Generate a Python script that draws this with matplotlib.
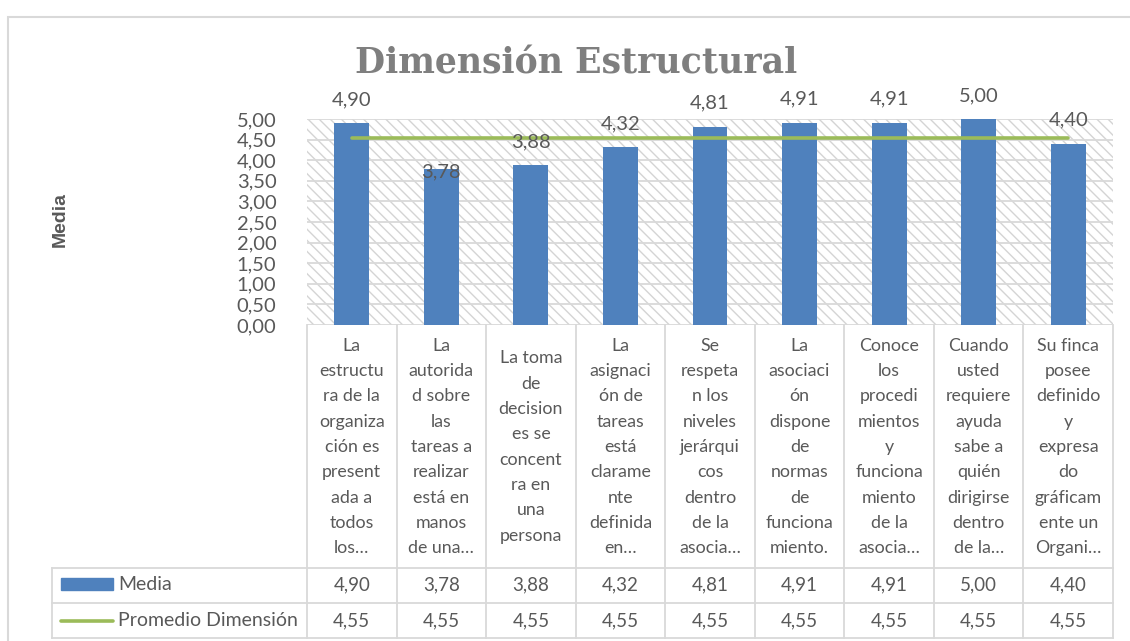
import matplotlib
matplotlib.use("Agg")
import matplotlib.pyplot as plt
import matplotlib.transforms as mtransforms
from matplotlib.patches import Rectangle
from matplotlib.lines import Line2D
import numpy as np

# --- data ---
categories = [
    "La\nestructu\nra de la\norganiza\nción es\npresent\nada a\ntodos\nlos…",
    "La\nautorida\nd sobre\nlas\ntareas a\nrealizar\nestá en\nmanos\nde una…",
    "La toma\nde\ndecision\nes se\nconcent\nra en\nuna\npersona",
    "La\nasignaci\nón de\ntareas\nestá\nclarame\nnte\ndefinida\nen…",
    "Se\nrespeta\nn los\nniveles\njerárqui\ncos\ndentro\nde la\nasocia…",
    "La\nasociaci\nón\ndispone\nde\nnormas\nde\nfunciona\nmiento.",
    "Conoce\nlos\nprocedi\nmientos\ny\nfunciona\nmiento\nde la\nasocia…",
    "Cuando\nusted\nrequiere\nayuda\nsabe a\nquién\ndirigirse\ndentro\nde la…",
    "Su finca\nposee\ndefinido\ny\nexpresa\ndo\ngráficam\nente un\nOrgani…",
]
media = [4.90, 3.78, 3.88, 4.32, 4.81, 4.91, 4.91, 5.00, 4.40]
promedio = [4.55] * 9
series_names = ["Media", "Promedio Dimensión"]

BLUE = "#4F81BD"
GREEN = "#9BBB59"
GRID = "#d9d9d9"
TXT = "#595959"

plt.rcParams["font.family"] = ["Lato", "DejaVu Sans"]

W, H = 1130, 641
fig = plt.figure(figsize=(W / 100, H / 100), dpi=100)


def fx(px):
    return px / W


def fy(py):
    return 1 - py / H


# outer chart border
fig.add_artist(Rectangle((fx(8), -0.1), 1.2, fy(17) + 0.1, transform=fig.transFigure,
                         fill=False, ec=GRID, lw=1.5))

ax = fig.add_axes([fx(307), fy(325), fx(1113) - fx(307), fy(119) - fy(325)])
x = np.arange(len(media))

# hatched plot area
ax.add_patch(Rectangle((0, 0), 1, 1, transform=ax.transAxes, facecolor="white",
                       edgecolor="#d4d4d4", hatch="\\\\\\", lw=0, zorder=0))

ax.bar(x, media, width=0.39, color=BLUE, zorder=3)
ax.plot(x, promedio, color=GREEN, lw=2.6, solid_capstyle="round", zorder=4)

# data labels (3,78 was pushed down by Excel)
label_offsets = [17, -2, 17, 17, 17, 17, 17, 17, 17]
for xi, v, off in zip(x, media, label_offsets):
    ax.annotate(f"{v:.2f}".replace(".", ","), (xi, v), xytext=(0, off),
                textcoords="offset points", ha="center", va="center",
                fontsize=14.5, color=TXT, zorder=5, annotation_clip=False)

ax.set_xlim(-0.5, len(media) - 0.5)
ax.set_ylim(0, 5)
yt = np.arange(0, 5.01, 0.5)
ax.set_yticks(yt)
ax.set_yticklabels([f"{t:.2f}".replace(".", ",") for t in yt], fontsize=14.5, color=TXT)
ax.set_xticks([])
ax.tick_params(axis="y", length=0, pad=22)
for s in ax.spines.values():
    s.set_visible(False)
for t in yt:
    ax.axhline(t, color=GRID, lw=1.3, zorder=1)

# --- data table below the axes ---
blend = mtransforms.blended_transform_factory(ax.transData, fig.transFigure)
for i in range(len(media) + 1):
    fig.add_artist(Line2D([i - 0.5, i - 0.5], [fy(325), fy(638)], transform=blend,
                          color=GRID, lw=1.3))
for py in (568, 603, 638):
    fig.add_artist(Line2D([fx(52), fx(1113)], [fy(py), fy(py)], transform=fig.transFigure,
                          color=GRID, lw=1.3))
fig.add_artist(Line2D([fx(52), fx(52)], [fy(568), fy(638)], transform=fig.transFigure,
                      color=GRID, lw=1.3))

for i, (c, m, p) in enumerate(zip(categories, media, promedio)):
    fig.text(i, fy(447), c, transform=blend, ha="center", va="center",
             fontsize=12.8, color=TXT, linespacing=1.72)
    fig.text(i, fy(585), f"{m:.2f}".replace(".", ","), transform=blend,
             ha="center", va="center", fontsize=13.5, color=TXT)
    fig.text(i, fy(621), f"{p:.2f}".replace(".", ","), transform=blend,
             ha="center", va="center", fontsize=13.5, color=TXT)

# legend keys in table
fig.add_artist(Rectangle((fx(61), fy(590)), fx(113) - fx(61), fy(578) - fy(590),
                         transform=fig.transFigure, color=BLUE))
fig.add_artist(Line2D([fx(61), fx(113)], [fy(621), fy(621)], transform=fig.transFigure,
                      color=GREEN, lw=2.6, solid_capstyle="round"))
fig.text(fx(118), fy(585), series_names[0], ha="left", va="center", fontsize=14, color=TXT)
fig.text(fx(118), fy(621), series_names[1], ha="left", va="center", fontsize=14, color=TXT)

# axis title and chart title
fig.text(fx(60), fy(220), "Media", rotation=90, ha="center", va="center",
         fontsize=14, fontweight="bold", color=TXT, family=["Liberation Sans"])
fig.text(fx(576), fy(63), "Dimensión Estructural", ha="center", va="center",
         fontsize=25, fontweight="bold", color="#7f7f7f", family=["DejaVu Serif"])

fig.savefig("out.png", dpi=100)
